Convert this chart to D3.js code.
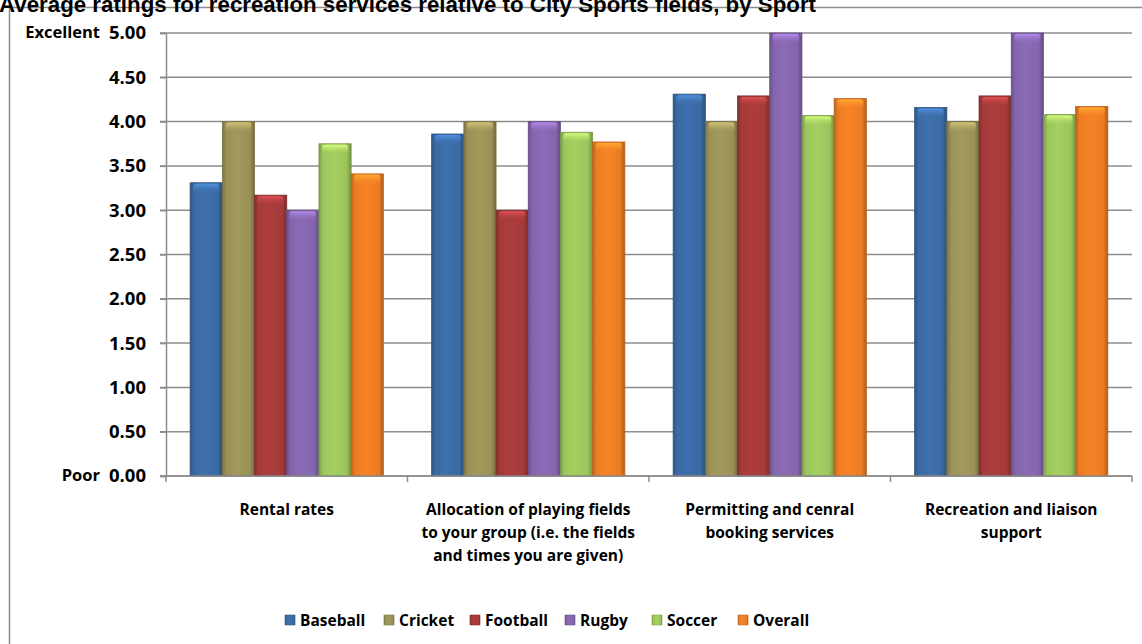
<!DOCTYPE html>
<html>
<head>
<meta charset="utf-8">
<script src="https://cdn.jsdelivr.net/npm/d3@7"></script>
<style>
  body { margin: 0; background: #fff; }
  svg { display: block; }
</style>
</head>
<body>
<div id="chart"></div>
<script>
// ratings per service, per sport
var categories = [
  ["Rental rates"],
  ["Allocation of playing fields", "to your group (i.e. the fields", "and times you are given)"],
  ["Permitting and cenral", "booking services"],
  ["Recreation and liaison", "support"]
];
var sports = ["Baseball", "Cricket", "Football", "Rugby", "Soccer", "Overall"];
var baseball = [3.31, 3.86, 4.31, 4.16];
var cricket  = [4.00, 4.00, 4.00, 4.00];
var football = [3.17, 3.00, 4.29, 4.29];
var rugby    = [3.00, 4.00, 5.00, 5.00];
var soccer   = [3.75, 3.88, 4.07, 4.08];
var overall  = [3.41, 3.77, 4.26, 4.17];
var yTicks = [0, 0.5, 1, 1.5, 2, 2.5, 3, 3.5, 4, 4.5, 5];

var series = [baseball, cricket, football, rugby, soccer, overall];
var colors = ["#3b6aa3", "#9a9158", "#a43a3a", "#8465ad", "#9cc45c", "#eb7c24"];

var W = 1142, H = 644;
var margin = {top: 33, left: 166, right: 10, bottom: 168};
var width = 1132 - margin.left,
    height = 476 - margin.top;

var svg = d3.select("#chart").append("svg")
    .attr("width", W).attr("height", H);

// gradients for the bars (dark edges, light middle)
var defs = svg.append("defs");
colors.forEach(function(c, i) {
  var g = defs.append("linearGradient").attr("id", "grad" + i)
      .attr("x1", "0%").attr("x2", "100%").attr("y1", "0%").attr("y2", "0%");
  var base = d3.color(c);
  g.append("stop").attr("offset", "0%").attr("stop-color", base.darker(0.6));
  g.append("stop").attr("offset", "12%").attr("stop-color", base);
  g.append("stop").attr("offset", "45%").attr("stop-color", base.brighter(0.15));
  g.append("stop").attr("offset", "85%").attr("stop-color", base);
  g.append("stop").attr("offset", "100%").attr("stop-color", base.darker(0.8));
  var t = defs.append("linearGradient").attr("id", "cap" + i)
      .attr("x1", "0%").attr("x2", "0%").attr("y1", "0%").attr("y2", "100%");
  t.append("stop").attr("offset", "0%").attr("stop-color", base.brighter(0.9));
  t.append("stop").attr("offset", "100%").attr("stop-color", base.brighter(0.1)).attr("stop-opacity", 0);
});

// outer frame
svg.append("rect")
  .attr("x", 9.5).attr("y", 7.5).attr("width", 1200).attr("height", 700)
  .attr("fill", "none").attr("stroke", "#8c8c8c").attr("stroke-width", 1.5);

// title (top is clipped in the original too)
svg.append("text")
  .attr("x", -1).attr("y", 12)
  .style("font-family", "'Liberation Sans', Arial, sans-serif")
  .style("font-weight", "bold").style("font-size", "22.3px")
  .text("Average ratings for recreation services relative to City Sports fields, by Sport");

var g = svg.append("g")
  .attr("transform", "translate(" + margin.left + "," + margin.top + ")");

var x0 = d3.scaleBand()
  .domain(d3.range(categories.length))
  .range([0, width])
  .paddingInner(0.2).paddingOuter(0.1);

var x1 = d3.scaleBand()
  .domain(d3.range(sports.length))
  .range([0, x0.bandwidth()]);

var y = d3.scaleLinear().domain([0, 5]).range([height, 0]);

var font = "'Open Sans', 'Noto Sans', sans-serif";

// grid lines
g.append("g").selectAll("line")
  .data(yTicks)
  .enter().append("line")
    .attr("x1", -6).attr("x2", width)
    .attr("y1", function(d) { return y(d); })
    .attr("y2", function(d) { return y(d); })
    .attr("stroke", "#8c8c8c").attr("stroke-width", 1.5);

// y axis
var yAxis = g.append("g")
  .call(d3.axisLeft(y).tickValues(yTicks).tickFormat(d3.format(".2f")).tickSize(6).tickPadding(14));
yAxis.select(".domain").attr("stroke", "#8c8c8c").attr("stroke-width", 1.5);
yAxis.selectAll(".tick line").attr("stroke", "#8c8c8c").attr("stroke-width", 1.5);
yAxis.selectAll("text")
  .style("font-family", font).style("font-weight", "bold").style("font-size", "18.5px")
  .attr("fill", "#000");

// Excellent / Poor labels
g.append("text").attr("x", -66).attr("y", y(5) + 5)
  .attr("text-anchor", "end")
  .style("font-family", font).style("font-weight", "bold").style("font-size", "16.5px")
  .text("Excellent");
g.append("text").attr("x", -66).attr("y", y(0) + 5)
  .attr("text-anchor", "end")
  .style("font-family", font).style("font-weight", "bold").style("font-size", "16.5px")
  .text("Poor");

// bars
var groups = g.append("g").selectAll("g")
  .data(categories)
  .enter().append("g")
    .attr("transform", function(d, i) { return "translate(" + x0(i) + ",0)"; });

groups.each(function(cat, ci) {
  var grp = d3.select(this);
  sports.forEach(function(s, si) {
    var v = series[si][ci];
    var bx = x1(si), bw = x1.bandwidth();
    grp.append("rect")
      .attr("x", bx).attr("y", y(v))
      .attr("width", bw).attr("height", y(0) - y(v))
      .attr("fill", "url(#grad" + si + ")")
      .attr("stroke", d3.color(colors[si]).darker(0.7))
      .attr("stroke-width", 0.8);
    grp.append("rect")
      .attr("x", bx + 3).attr("y", y(v) + 1)
      .attr("width", bw - 6).attr("height", 10)
      .attr("rx", 3)
      .attr("fill", "url(#cap" + si + ")");
  });
});

// x axis
g.append("line")
  .attr("x1", -6).attr("x2", width)
  .attr("y1", height).attr("y2", height)
  .attr("stroke", "#8c8c8c").attr("stroke-width", 1.5);
g.append("g").selectAll("line")
  .data(d3.range(categories.length + 1))
  .enter().append("line")
    .attr("x1", function(d) { return d * x0.step(); })
    .attr("x2", function(d) { return d * x0.step(); })
    .attr("y1", height).attr("y2", height + 6)
    .attr("stroke", "#8c8c8c").attr("stroke-width", 1.5);

// category labels
groups.append("text")
  .attr("text-anchor", "middle")
  .style("font-family", font).style("font-weight", "bold").style("font-size", "15.5px")
  .each(function(lines) {
    var t = d3.select(this);
    lines.forEach(function(l, i) {
      t.append("tspan")
        .attr("x", x0.bandwidth() / 2)
        .attr("y", height + 39 + i * 23)
        .text(l);
    });
  });

// legend
var legendX = [285, 384, 470, 565, 652, 738];
var legend = svg.append("g").selectAll("g")
  .data(sports)
  .enter().append("g")
    .attr("transform", function(d, i) { return "translate(" + legendX[i] + ",621)"; });
legend.append("rect")
  .attr("x", 0).attr("y", -6).attr("width", 10).attr("height", 10)
  .attr("fill", function(d, i) { return "url(#grad" + i + ")"; })
  .attr("stroke", function(d, i) { return d3.color(colors[i]).darker(0.5); })
  .attr("stroke-width", 0.6);
legend.append("text")
  .attr("x", 15).attr("y", 5)
  .style("font-family", font).style("font-weight", "bold").style("font-size", "15.5px")
  .text(function(d) { return d; });
</script>
</body>
</html>
